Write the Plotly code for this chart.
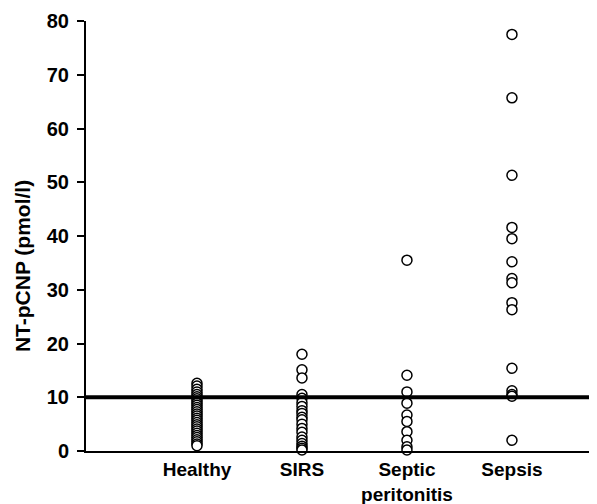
import plotly.graph_objects as go

categories = ["Healthy", "SIRS", "Septic<br>peritonitis", "Sepsis"]
cat_pos = [1, 2, 3, 4]

healthy = [12.6, 12.1, 11.5, 11.0, 10.5, 10.1, 9.7, 9.3, 8.9, 8.5, 8.1, 7.7, 7.3,
           6.9, 6.5, 6.1, 5.7, 5.3, 4.9, 4.5, 4.1, 3.7, 3.3, 2.9, 2.5, 2.1, 1.7,
           1.3, 1.0]
sirs = [18.0, 15.1, 13.6, 10.5, 9.8, 9.0, 8.3, 7.5, 7.0, 6.3, 5.8, 5.0, 4.2,
        3.5, 2.6, 2.0, 1.4, 0.9, 0.5, 0.2]
septic = [35.5, 14.1, 11.0, 8.9, 6.7, 5.5, 3.6, 2.0, 0.8, 0.2]
sepsis = [77.5, 65.7, 51.3, 41.6, 39.5, 35.2, 32.1, 31.3, 27.6, 26.3, 15.4,
          11.2, 10.5, 10.2, 2.0]

groups = [healthy, sirs, septic, sepsis]
cutoff = 10

y_ticks = [0, 10, 20, 30, 40, 50, 60, 70, 80]

FONT = "Liberation Sans, Arial, sans-serif"

fig = go.Figure()
for pos, vals in zip(cat_pos, groups):
    fig.add_trace(go.Scatter(
        x=[pos] * len(vals), y=vals, mode="markers",
        marker=dict(symbol="circle", size=10, color="white",
                    line=dict(color="black", width=1.5)),
        cliponaxis=False, showlegend=False, hoverinfo="y"))

fig.add_shape(type="line", xref="paper", x0=0, x1=1, yref="y", y0=cutoff, y1=cutoff,
              line=dict(color="black", width=4))

# the page body adds an 8px offset, so the figure is 8px smaller than the window
fig.update_layout(
    width=589, height=496,
    margin=dict(l=78, r=0, t=13, b=53),
    plot_bgcolor="white", paper_bgcolor="white",
    font=dict(family=FONT, color="black"),
    xaxis=dict(range=[-0.057, 4.81], tickvals=cat_pos, ticktext=categories,
               showline=True, linecolor="black", linewidth=2, ticks="",
               showgrid=False, zeroline=False,
               tickfont=dict(family=FONT, size=19, color="black", weight="bold")),
    yaxis=dict(range=[0, 80], tickvals=y_ticks, showline=True, linecolor="black",
               linewidth=2, ticks="outside", ticklen=7, tickwidth=2, tickcolor="black",
               showgrid=False, zeroline=False, ticklabelstandoff=4,
               tickfont=dict(family=FONT, size=20, color="black", weight="bold")),
    annotations=[dict(text="NT-pCNP (pmol/l)", xref="paper", yref="paper",
                      x=(14 - 78) / 511, y=0.43, xanchor="center", yanchor="middle",
                      textangle=-90, showarrow=False,
                      font=dict(family=FONT, size=21, color="black", weight="bold"))],
)

fig.write_html("out.html")
